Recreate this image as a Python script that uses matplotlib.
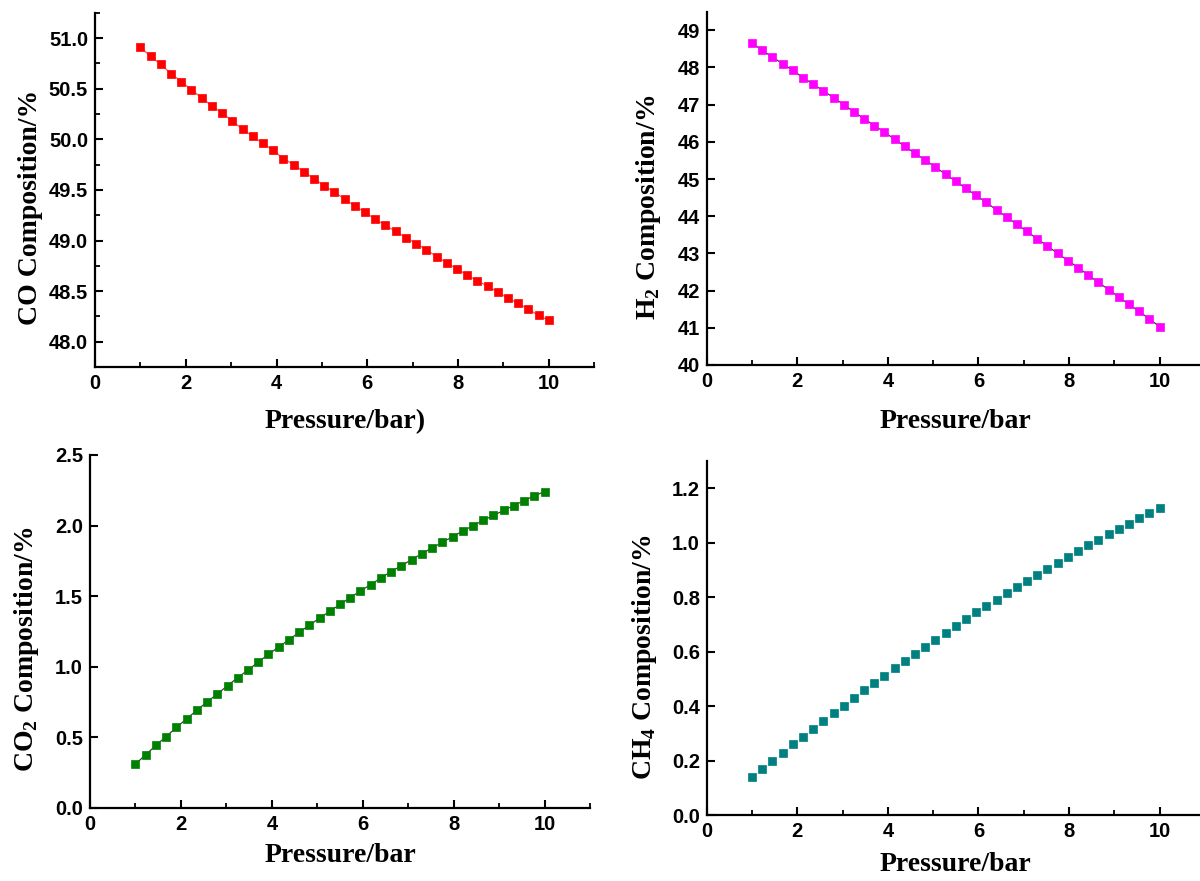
import numpy as np
import matplotlib
matplotlib.use("Agg")
import matplotlib.pyplot as plt
from matplotlib.ticker import MultipleLocator

plt.rcParams['mathtext.fontset'] = 'custom'
plt.rcParams['mathtext.rm'] = 'Liberation Serif:bold'
plt.rcParams['mathtext.bf'] = 'Liberation Serif:bold'

# pressure grid: 41 points from 1 to 10 bar
pressure = np.linspace(1, 10, 41)

co = [50.91, 50.82, 50.74, 50.65, 50.57, 50.49, 50.41, 50.33, 50.26, 50.18,
      50.10, 50.03, 49.96, 49.89, 49.81, 49.75, 49.68, 49.61, 49.54, 49.48,
      49.41, 49.34, 49.28, 49.21, 49.15, 49.09, 49.03, 48.97, 48.91, 48.84,
      48.78, 48.72, 48.66, 48.60, 48.55, 48.49, 48.43, 48.38, 48.32, 48.26,
      48.21]
h2 = [48.66, 48.46, 48.28, 48.10, 47.92, 47.73, 47.55, 47.37, 47.19, 47.00,
      46.81, 46.62, 46.44, 46.26, 46.07, 45.88, 45.69, 45.51, 45.32, 45.13,
      44.94, 44.75, 44.56, 44.37, 44.17, 43.98, 43.78, 43.59, 43.39, 43.20,
      43.00, 42.81, 42.62, 42.42, 42.22, 42.03, 41.83, 41.63, 41.44, 41.24,
      41.03]
co2 = [0.311, 0.377, 0.443, 0.506, 0.570, 0.631, 0.692, 0.751, 0.807, 0.866,
       0.923, 0.977, 1.033, 1.088, 1.139, 1.191, 1.243, 1.295, 1.344, 1.394,
       1.441, 1.490, 1.537, 1.582, 1.629, 1.674, 1.716, 1.759, 1.801, 1.841,
       1.881, 1.921, 1.961, 1.999, 2.036, 2.072, 2.107, 2.142, 2.177, 2.210,
       2.241]
ch4 = [0.139, 0.168, 0.199, 0.228, 0.259, 0.288, 0.317, 0.345, 0.374, 0.401,
       0.429, 0.458, 0.485, 0.512, 0.539, 0.566, 0.593, 0.618, 0.644, 0.670,
       0.694, 0.719, 0.744, 0.768, 0.791, 0.815, 0.838, 0.860, 0.882, 0.904,
       0.926, 0.947, 0.969, 0.990, 1.010, 1.031, 1.050, 1.070, 1.090, 1.109,
       1.128]

panels = [
    # data, marker colour, line colour, ylabel, xlabel, ylim, ymajor, yminor
    (co, '#ff0000', '#ff5050', 'CO Composition/%', 'Pressure/bar)',
     (47.75, 51.25), 0.5, 0.25),
    (h2, '#ff00ff', '#404040', r'H$_{2}$ Composition/%', 'Pressure/bar',
     (40, 49.5), 1, None),
    (co2, '#008000', '#404040', r'CO$_{2}$ Composition/%', 'Pressure/bar',
     (0, 2.5), 0.5, None),
    (ch4, '#008080', None, r'CH$_{4}$ Composition/%', 'Pressure/bar',
     (0, 1.3), 0.2, None),
]

# axes rectangles in figure fraction
rects = [
    [0.0792, 0.5834, 0.416, 0.402],
    [0.589, 0.5857, 0.415, 0.401],
    [0.075, 0.0829, 0.4167, 0.4007],
    [0.589, 0.0749, 0.415, 0.4018],
]
ylab_pos = [(-0.13, 0.45), (-0.118, 0.445), (-0.126, 0.448), (-0.125, 0.445)]
xlab_pos = [(0.5, -0.155), (0.5, -0.161), (0.5, -0.135), (0.5, -0.141)]

fig = plt.figure(figsize=(12, 8.81), dpi=100)

for (vals, mcol, lcol, ylab, xlab, ylim, ymaj, ymin), rect, yp, xp in zip(
        panels, rects, ylab_pos, xlab_pos):
    ax = fig.add_axes(rect)
    if lcol is not None:
        ax.plot(pressure, vals, '-', color=lcol, lw=0.9, zorder=2)
    ax.plot(pressure, vals, 's', color=mcol, ms=5.5, mec=mcol, mew=0.5,
            zorder=3, clip_on=False)

    ax.set_xlim(0, 11)
    ax.set_ylim(*ylim)
    ax.xaxis.set_major_locator(MultipleLocator(2))
    ax.xaxis.set_minor_locator(MultipleLocator(1))
    ax.yaxis.set_major_locator(MultipleLocator(ymaj))
    if ymin:
        ax.yaxis.set_minor_locator(MultipleLocator(ymin))
    if ymaj < 1:
        ax.yaxis.set_major_formatter(matplotlib.ticker.FormatStrFormatter('%.1f'))

    for s in ['top', 'right']:
        ax.spines[s].set_visible(False)
    for s in ['left', 'bottom']:
        ax.spines[s].set_linewidth(1.6)

    ax.tick_params(which='major', direction='in', length=6, width=1.5,
                   labelsize=14.5, pad=5)
    ax.tick_params(which='minor', direction='in', length=3.5, width=1.3)
    for lab in ax.get_xticklabels() + ax.get_yticklabels():
        lab.set_fontfamily('Liberation Sans')
        lab.set_fontweight('bold')

    ax.set_ylabel(ylab, fontsize=20, fontweight='bold', family='Liberation Serif')
    ax.set_xlabel(xlab, fontsize=20, fontweight='bold', family='Liberation Serif')
    ax.yaxis.label.set_va('center')
    ax.xaxis.label.set_va('center')
    ax.yaxis.set_label_coords(*yp)
    ax.xaxis.set_label_coords(*xp)

fig.savefig('out.png', dpi=100)
